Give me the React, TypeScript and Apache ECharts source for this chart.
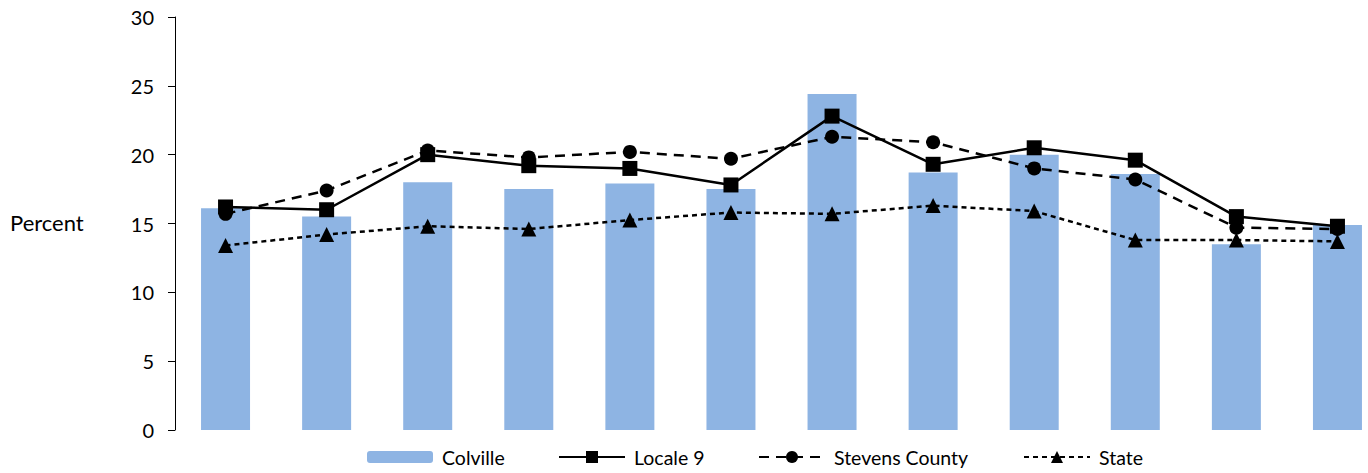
import React, { useEffect, useRef } from "react";
import * as echarts from "echarts";

const categories = ["1", "2", "3", "4", "5", "6", "7", "8", "9", "10", "11", "12"];
const colville = [16.1, 15.5, 18.0, 17.5, 17.9, 17.5, 24.4, 18.7, 20.0, 18.6, 13.5, 14.9];
const locale9 = [16.2, 16.0, 20.0, 19.2, 19.0, 17.8, 22.8, 19.3, 20.5, 19.6, 15.5, 14.8];
const stevens = [15.7, 17.4, 20.3, 19.8, 20.2, 19.7, 21.3, 20.9, 19.0, 18.2, 14.7, 14.6];
const stateVals = [13.4, 14.2, 14.8, 14.6, 15.25, 15.8, 15.7, 16.3, 15.9, 13.8, 13.8, 13.7];
const yTicks = { min: 0, max: 30, interval: 5 };

const FONT = "Lato";

export default function App() {
  const ref = useRef<HTMLDivElement>(null);
  useEffect(() => {
    if (!ref.current) return;
    const chart = echarts.init(ref.current, undefined, { renderer: "svg" });
    const legendText = { fontFamily: FONT, fontSize: 19.5, color: "#000", padding: [0, 0, 0, 4] };
    const mkLegend = (name: string, left: number, h: number) => ({
      data: [name],
      left,
      top: 447,
      itemWidth: 66,
      itemHeight: h,
      itemGap: 0,
      textStyle: legendText,
      padding: 0,
    });
    chart.setOption({
      animation: false,
      backgroundColor: "#fff",
      grid: { left: 175, top: 17, right: 0, bottom: 43 },
      legend: [
        mkLegend("Colville", 367, 12),
        mkLegend("Locale 9", 558, 15),
        mkLegend("Stevens County", 758, 15),
        mkLegend("State", 1023, 15),
      ],
      graphic: [
        {
          type: "text",
          left: 10,
          top: 211,
          style: { text: "Percent", fontFamily: FONT, fontSize: 22, fill: "#000" },
        },
      ],
      xAxis: {
        type: "category",
        data: categories,
        axisLine: { show: false },
        axisTick: { show: false },
        axisLabel: { show: false },
      },
      yAxis: {
        type: "value",
        min: yTicks.min,
        max: yTicks.max,
        interval: yTicks.interval,
        axisLine: { show: true, lineStyle: { color: "#000", width: 1 } },
        axisTick: { show: true, length: 7, lineStyle: { color: "#000" } },
        axisLabel: { fontFamily: FONT, fontSize: 20, color: "#000", margin: 21 },
        splitLine: { show: false },
      },
      series: [
        {
          name: "Colville",
          type: "bar",
          data: colville,
          barWidth: 49,
          itemStyle: { color: "#8EB4E3" },
        },
        {
          name: "Locale 9",
          type: "line",
          data: locale9,
          symbol: "rect",
          symbolSize: 15,
          itemStyle: { color: "#000" },
          lineStyle: { color: "#000", width: 2.5 },
        },
        {
          name: "Stevens County",
          type: "line",
          data: stevens,
          symbol: "circle",
          symbolSize: 14,
          itemStyle: { color: "#000" },
          lineStyle: { color: "#000", width: 2.5, type: [10, 7] },
        },
        {
          name: "State",
          type: "line",
          data: stateVals,
          symbol: "triangle",
          symbolSize: 15,
          itemStyle: { color: "#000" },
          lineStyle: { color: "#000", width: 2.5, type: [5, 4] },
        },
      ],
    });
    return () => chart.dispose();
  }, []);
  return (
    <div style={{ position: "absolute", left: 0, top: 0, width: 1368, height: 473, overflow: "hidden" }}>
      <div ref={ref} style={{ width: 1388, height: 473 }} />
    </div>
  );
}
